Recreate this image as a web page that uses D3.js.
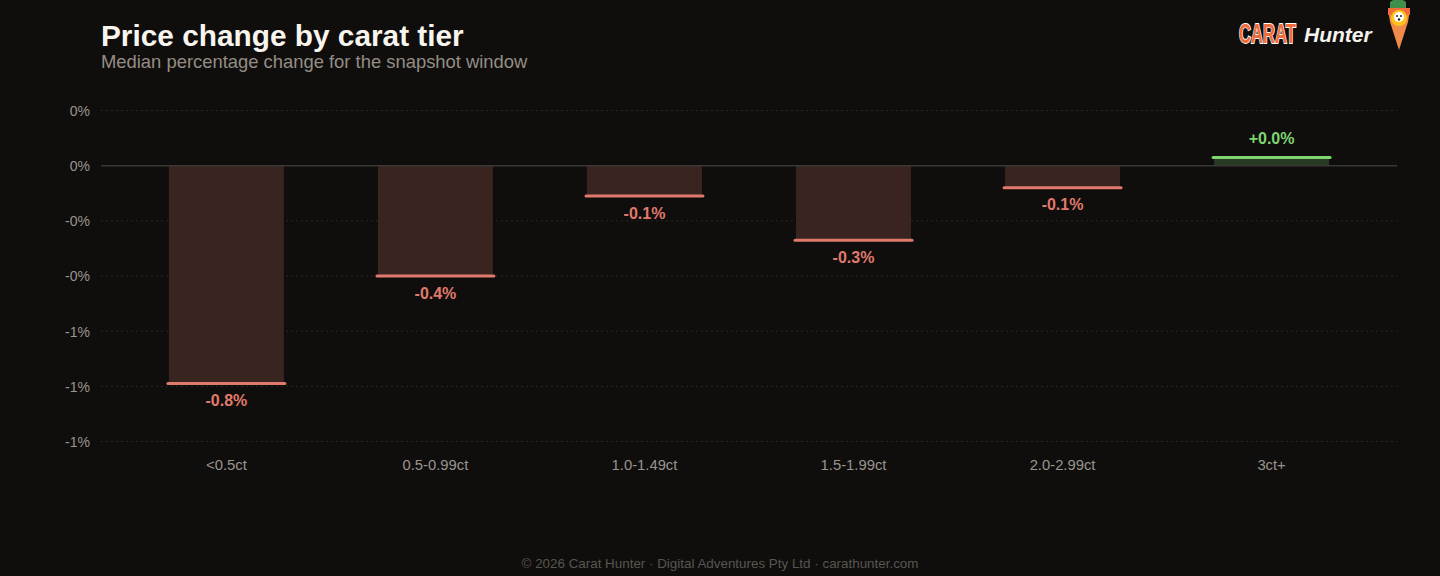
<!DOCTYPE html>
<html><head><meta charset="utf-8">
<script src="https://cdn.jsdelivr.net/npm/d3@7"></script>
<style>
html,body{margin:0;padding:0;background:#0f0e0d;}
svg{display:block;font-family:"Liberation Sans",Arial,sans-serif;}
</style></head>
<body>
<svg id="chart" width="1440" height="576"></svg>
<script>
const categories = ["<0.5ct","0.5-0.99ct","1.0-1.49ct","1.5-1.99ct","2.0-2.99ct","3ct+"];
const values = [-0.79, -0.40, -0.11, -0.27, -0.08, 0.03];
const yTicks = [0.2, 0, -0.2, -0.4, -0.6, -0.8, -1.0];

(function(){
const svg = d3.select("#chart");
svg.append("rect").attr("width",1440).attr("height",576).attr("fill","#0f0e0d");

const pLeft = 101, pRight = 1397, pTop = 110.5, pBottom = 441.5;
const x = d3.scaleBand().domain(categories).range([pLeft,pRight]).paddingInner(0.45).paddingOuter(0.325);
const y = d3.scaleLinear().domain([-1.0, 0.2]).range([pBottom, pTop]);

// title
svg.append("text").attr("x",101).attr("y",46).attr("fill","#f8f4ee")
  .attr("font-size",29.8).attr("font-weight","bold").text("Price change by carat tier");
svg.append("text").attr("x",101).attr("y",68).attr("fill","#958d84")
  .attr("font-size",18.4).text("Median percentage change for the snapshot window");

// grid
const fmt = v => { const r = Math.round(v); return (v < 0 ? "-" : "") + Math.abs(r) + "%"; };
const g = svg.append("g");
yTicks.forEach(t => {
  if (t !== 0) {
    g.append("line").attr("x1",pLeft).attr("x2",pRight).attr("y1",y(t)).attr("y2",y(t))
      .attr("stroke","#2a2826").attr("stroke-width",1).attr("stroke-dasharray","2,3");
  }
  g.append("text").attr("x",90).attr("y",y(t)+0.5).attr("dy","0.35em").attr("text-anchor","end")
    .attr("fill","#9a948d").attr("font-size",14).text(fmt(t));
});

// bars
categories.forEach((c,i) => {
  const v = values[i];
  const neg = v < 0;
  const bx = x(c), bw = x.bandwidth();
  g.append("rect").attr("x",bx).attr("width",bw)
    .attr("y", Math.min(y(0), y(v))).attr("height", Math.abs(y(v)-y(0)))
    .attr("fill", neg ? "#3a2420" : "#263a24");
  g.append("line").attr("x1",bx-1).attr("x2",bx+bw+1).attr("y1",y(v)).attr("y2",y(v))
    .attr("stroke", neg ? "#e07a6c" : "#7fd670").attr("stroke-width",3).attr("stroke-linecap","round");
  const label = (v >= 0 ? "+" : "-") + Math.abs(v).toFixed(1) + "%";
  g.append("text").attr("x",bx+bw/2).attr("y", neg ? y(v)+22.5 : y(v)-13)
    .attr("text-anchor","middle").attr("fill", neg ? "#e07a6c" : "#7fd670")
    .attr("font-size",16).attr("font-weight","bold").text(label);
  g.append("text").attr("x",bx+bw/2).attr("y",470).attr("text-anchor","middle")
    .attr("fill","#9a948d").attr("font-size",14.8).text(c);
});

// zero line
g.append("line").attr("x1",pLeft).attr("x2",pRight).attr("y1",y(0)).attr("y2",y(0))
  .attr("stroke","#3a3835").attr("stroke-width",1.5);

// footer
svg.append("text").attr("x",720).attr("y",568).attr("text-anchor","middle")
  .attr("fill","#5a5550").attr("font-size",13.4)
  .text("© 2026 Carat Hunter · Digital Adventures Pty Ltd · carathunter.com");

// logo
const logo = svg.append("g");
const carat = logo.append("text").attr("x",0).attr("y",0)
  .attr("font-size",27).attr("font-weight","bold").attr("fill","#f26b3a")
  .attr("stroke","#ffffff").attr("stroke-width",1.8).attr("paint-order","stroke")
  .text("CARAT");
const natW = carat.node().getComputedTextLength() || 94;
carat.attr("transform", `translate(1239,43) scale(${57/natW},1)`);
logo.append("text").attr("x",1304).attr("y",42).attr("font-size",21).attr("font-weight","bold")
  .attr("font-style","italic").attr("fill","#f5f2ee").text("Hunter");
// carrot
logo.append("path").attr("d","M1390,2 Q1398,-4 1406,2 L1406,9 L1390,9 Z").attr("fill","#3f8f4a");
logo.append("path").attr("d","M1388,9 L1410,9 L1408,22 L1399,50 L1390,22 Z").attr("fill","#f08a4b");
logo.append("rect").attr("x",1388).attr("y",8).attr("width",22).attr("height",7).attr("fill","#f26b3a");
logo.append("circle").attr("cx",1399).attr("cy",18).attr("r",8).attr("fill","#ffc21a");
logo.append("circle").attr("cx",1399).attr("cy",17).attr("r",5).attr("fill","#ffffff");
logo.append("circle").attr("cx",1397).attr("cy",16).attr("r",1).attr("fill","#222");
logo.append("circle").attr("cx",1401).attr("cy",16).attr("r",1).attr("fill","#222");
logo.append("circle").attr("cx",1399).attr("cy",19.5).attr("r",1.2).attr("fill","#222");
})();
</script>
</body></html>
